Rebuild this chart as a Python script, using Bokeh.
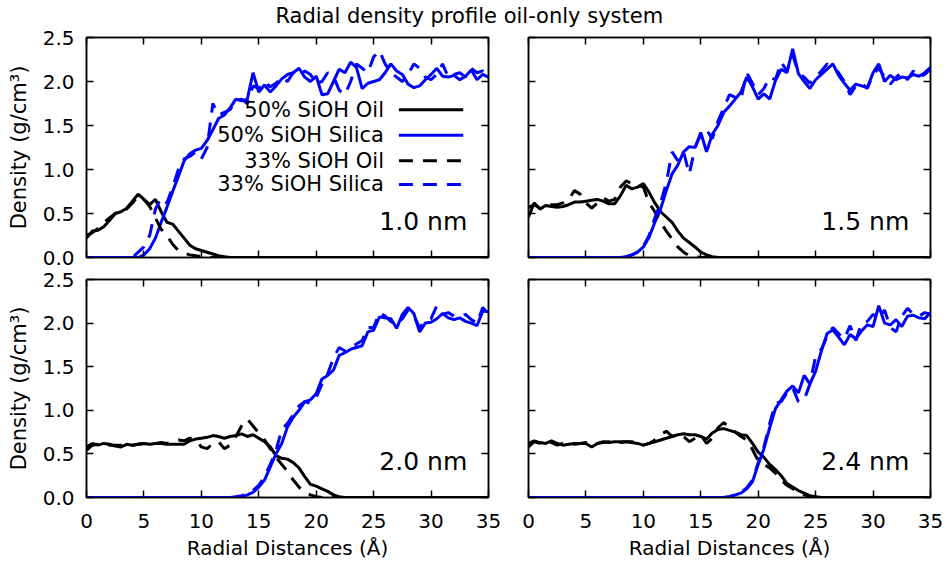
from bokeh.plotting import figure
from bokeh.models import Range1d, LinearAxis, Label, FixedTicker
from bokeh.layouts import column, row
from bokeh.embed import file_html
from bokeh.resources import INLINE
from bokeh.core.properties import value

TITLE = "Radial density profile oil-only system"
X_LABEL = "Radial Distances (Å)"
Y_LABEL = "Density (g/cm³)"
SERIES_NAMES = ["50% SiOH Oil", "50% SiOH Silica", "33% SiOH Oil", "33% SiOH Silica"]
PANEL_LABELS = ["1.0 nm", "1.5 nm", "2.0 nm", "2.4 nm"]
X_TICKS = [0, 5, 10, 15, 20, 25, 30, 35]
Y_TICKS = [0.0, 0.5, 1.0, 1.5, 2.0, 2.5]
Y_TICK_LABELS = ["0.0", "0.5", "1.0", "1.5", "2.0", "2.5"]

radius = [0.0, 0.5, 1.0, 1.5, 2.0, 2.5, 3.0, 3.5, 4.0, 4.5,
          5.0, 5.5, 6.0, 6.5, 7.0, 7.5, 8.0, 8.5, 9.0, 9.5,
          10.0, 10.5, 11.0, 11.5, 12.0, 12.5, 13.0, 13.5, 14.0, 14.5,
          15.0, 15.5, 16.0, 16.5, 17.0, 17.5, 18.0, 18.5, 19.0, 19.5,
          20.0, 20.5, 21.0, 21.5, 22.0, 22.5, 23.0, 23.5, 24.0, 24.5,
          25.0, 25.5, 26.0, 26.5, 27.0, 27.5, 28.0, 28.5, 29.0, 29.5,
          30.0, 30.5, 31.0, 31.5, 32.0, 32.5, 33.0, 33.5, 34.0, 34.5,
          35.0]

Z10 = [0, 0, 0, 0, 0, 0, 0, 0, 0, 0]

# ---- 1.0 nm ----
p1_oil50 = [0.22, 0.30, 0.31, 0.35, 0.42, 0.50, 0.52, 0.56, 0.64, 0.72,
            0.66, 0.60, 0.66, 0.52, 0.40, 0.38, 0.30, 0.22, 0.14, 0.10,
            0.08, 0.06, 0.04, 0.02, 0.01, 0, 0, 0, 0, 0] + Z10 * 4 + [0]
p1_oil33 = [0.25, 0.28, 0.33, 0.40, 0.45, 0.50, 0.52, 0.55, 0.62, 0.70,
            0.66, 0.58, 0.45, 0.32, 0.25, 0.15, 0.08, 0.05, 0.03, 0.02,
            0.01, 0, 0, 0, 0, 0, 0, 0, 0, 0] + Z10 * 4 + [0]
p1_sil50 = Z10 + [
            0.03, 0.10, 0.22, 0.40, 0.57, 0.75, 0.92, 1.10, 1.18, 1.22,
            1.24, 1.33, 1.45, 1.58, 1.62, 1.70, 1.80, 1.78, 1.80, 2.10,
            1.88, 1.96, 1.88, 1.95, 2.03, 2.08, 2.10, 2.15, 2.05, 2.00,
            2.06, 1.85, 1.86, 2.00, 2.14, 2.10, 2.22, 2.16, 1.92, 1.98,
            2.00, 2.02, 2.10, 2.20, 2.12, 2.08, 1.97, 1.93, 1.95, 2.02,
            2.08, 2.15, 2.06, 2.05, 2.07, 2.02, 2.06, 2.13, 2.02, 2.08,
            2.05]
p1_sil33 = [0, 0, 0, 0, 0, 0, 0, 0, 0, 0.06,
            0.12, 0.25, 0.55, 0.68, 0.62, 0.80, 1.00, 1.12, 1.15, 1.20,
            1.12, 1.25, 1.75, 1.62, 1.65, 1.68, 1.78, 1.80, 1.75, 1.95,
            1.92, 2.00, 1.94, 1.98, 2.05, 2.00, 2.10, 2.06, 2.12, 2.08,
            1.98, 2.00, 2.10, 2.06, 1.90, 1.85, 2.00, 2.20, 2.15, 2.10,
            2.28, 2.35, 2.20, 2.10, 2.05, 2.00, 2.08, 2.20, 2.15, 2.05,
            2.02, 2.08, 2.20, 2.05, 2.08, 2.10, 2.05, 2.15, 2.10, 2.12,
            2.08]

# ---- 1.5 nm ----
p2_oil50 = [0.46, 0.62, 0.55, 0.59, 0.58, 0.57, 0.58, 0.60, 0.63, 0.63,
            0.64, 0.65, 0.66, 0.64, 0.61, 0.61, 0.70, 0.82, 0.78, 0.80,
            0.84, 0.74, 0.62, 0.52, 0.46, 0.40, 0.30, 0.22, 0.17, 0.12,
            0.06, 0.03, 0.01, 0, 0, 0, 0, 0, 0, 0] + Z10 * 3 + [0]
p2_oil33 = [0.57, 0.60, 0.56, 0.58, 0.60, 0.60, 0.62, 0.66, 0.76, 0.72,
            0.62, 0.56, 0.62, 0.68, 0.64, 0.66, 0.80, 0.87, 0.84, 0.82,
            0.80, 0.62, 0.52, 0.40, 0.30, 0.21, 0.12, 0.06, 0.02, 0.01] + Z10 * 4 + [0]
p2_sil50 = Z10 + [
            0, 0, 0, 0, 0, 0, 0, 0.01, 0.03, 0.06,
            0.12, 0.23, 0.40, 0.55, 0.76, 0.95, 1.05, 1.20, 1.26, 1.25,
            1.42, 1.20, 1.40, 1.50, 1.65, 1.72, 1.80, 1.88, 2.05, 1.94,
            1.80, 1.86, 1.80, 2.01, 2.14, 2.10, 2.37, 2.09, 2.00, 1.92,
            2.02, 2.08, 2.14, 2.20, 2.07, 1.98, 1.90, 1.97, 1.95, 1.93,
            2.10, 2.20, 2.00, 2.07, 2.02, 2.05, 2.04, 2.08, 2.06, 2.10,
            2.16]
p2_sil33 = Z10 + [
            0, 0, 0, 0, 0, 0, 0, 0.01, 0.03, 0.06,
            0.13, 0.25, 0.45, 0.62, 0.85, 1.20, 1.10, 1.20, 0.95, 1.25,
            1.40, 1.45, 1.35, 1.55, 1.70, 1.85, 1.82, 1.80, 2.10, 1.98,
            1.85, 1.92, 2.05, 2.02, 2.22, 2.12, 2.30, 2.10, 2.05, 1.98,
            2.05, 2.12, 2.20, 2.16, 2.10, 2.00, 1.85, 1.95, 1.98, 1.92,
            2.08, 2.15, 2.05, 1.97, 2.05, 2.10, 2.02, 2.12, 2.05, 2.08,
            2.14]

# ---- 2.0 nm ----
p3_oil50 = [0.58, 0.62, 0.60, 0.62, 0.61, 0.59, 0.58, 0.61, 0.60, 0.61,
            0.62, 0.61, 0.62, 0.62, 0.61, 0.61, 0.61, 0.61, 0.65, 0.67,
            0.68, 0.69, 0.71, 0.70, 0.68, 0.70, 0.71, 0.73, 0.70, 0.72,
            0.68, 0.64, 0.58, 0.48, 0.45, 0.44, 0.40, 0.34, 0.24, 0.15,
            0.13, 0.10, 0.07, 0.03, 0.01, 0, 0, 0, 0, 0] + Z10 * 2 + [0]
p3_oil33 = [0.54, 0.60, 0.61, 0.62, 0.60, 0.60, 0.60, 0.62, 0.60, 0.61,
            0.62, 0.60, 0.62, 0.63, 0.62, 0.64, 0.66, 0.65, 0.68, 0.66,
            0.58, 0.56, 0.62, 0.64, 0.56, 0.60, 0.70, 0.82, 0.90, 0.82,
            0.74, 0.66, 0.56, 0.46, 0.38, 0.30, 0.20, 0.12, 0.06, 0.03,
            0.01, 0, 0, 0, 0, 0, 0, 0, 0, 0] + Z10 * 2 + [0]
p3_sil50 = Z10 * 2 + [
            0, 0, 0, 0, 0, 0, 0, 0.01, 0.03, 0.06,
            0.12, 0.20, 0.35, 0.50, 0.62, 0.81, 0.92, 1.00, 1.10, 1.12,
            1.19, 1.36, 1.40, 1.46, 1.63, 1.66, 1.70, 1.72, 1.74, 1.90,
            1.92, 2.07, 2.06, 2.05, 1.94, 2.10, 2.18, 2.11, 1.90, 2.00,
            2.01, 2.05, 2.11, 2.06, 2.04, 2.06, 2.02, 2.00, 1.97, 2.14,
            2.13]
p3_sil33 = Z10 * 2 + [
            0, 0, 0, 0, 0, 0, 0.01, 0.02, 0.04, 0.08,
            0.14, 0.24, 0.38, 0.54, 0.78, 0.85, 0.95, 1.05, 1.10, 1.08,
            1.15, 1.30, 1.42, 1.60, 1.72, 1.68, 1.72, 1.76, 1.80, 1.95,
            1.95, 2.12, 2.08, 2.02, 1.98, 2.05, 2.15, 2.08, 1.95, 2.02,
            2.05, 2.20, 2.10, 2.12, 2.08, 2.08, 2.10, 2.04, 2.00, 2.18,
            2.10]

# ---- 2.4 nm ----
p4_oil50 = [0.62, 0.65, 0.63, 0.62, 0.65, 0.62, 0.60, 0.61, 0.62, 0.62,
            0.62, 0.58, 0.62, 0.64, 0.63, 0.64, 0.64, 0.64, 0.63, 0.62,
            0.60, 0.62, 0.64, 0.66, 0.68, 0.70, 0.72, 0.73, 0.72, 0.72,
            0.70, 0.67, 0.74, 0.78, 0.79, 0.77, 0.75, 0.72, 0.71, 0.62,
            0.52, 0.46, 0.38, 0.32, 0.25, 0.16, 0.12, 0.08, 0.05, 0.02,
            0.01, 0, 0, 0, 0, 0, 0, 0, 0, 0] + Z10 + [0]
p4_oil33 = [0.58, 0.64, 0.62, 0.64, 0.63, 0.60, 0.62, 0.62, 0.61, 0.62,
            0.63, 0.60, 0.62, 0.63, 0.64, 0.62, 0.63, 0.64, 0.64, 0.63,
            0.60, 0.62, 0.66, 0.72, 0.76, 0.70, 0.72, 0.70, 0.64, 0.68,
            0.72, 0.62, 0.68, 0.80, 0.86, 0.80, 0.75, 0.70, 0.66, 0.55,
            0.42, 0.38, 0.34, 0.28, 0.20, 0.14, 0.10, 0.06, 0.03, 0.01] + Z10 * 2 + [0]
p4_sil50 = Z10 * 3 + [
            0, 0, 0, 0, 0, 0.01, 0.03, 0.05, 0.10, 0.18,
            0.38, 0.56, 0.80, 1.02, 1.12, 1.22, 1.28, 1.20, 1.40, 1.30,
            1.45, 1.68, 1.88, 1.92, 1.84, 1.75, 1.87, 1.82, 1.91, 1.98,
            1.96, 2.20, 2.00, 1.98, 2.04, 1.96, 2.08, 2.09, 2.06, 2.05,
            2.12]
p4_sil33 = Z10 * 3 + [
            0, 0, 0, 0, 0, 0.01, 0.03, 0.06, 0.11, 0.20,
            0.40, 0.58, 0.85, 1.08, 1.10, 1.20, 1.26, 1.10, 1.12, 1.30,
            1.62, 1.70, 1.85, 1.95, 1.88, 1.82, 1.97, 1.80, 2.00, 2.02,
            2.10, 2.05, 2.15, 1.95, 1.90, 2.08, 2.17, 2.10, 2.08, 2.12,
            2.10]

PANELS = [
    (p1_oil50, p1_sil50, p1_oil33, p1_sil33),
    (p2_oil50, p2_sil50, p2_oil33, p2_sil33),
    (p3_oil50, p3_sil50, p3_oil33, p3_sil33),
    (p4_oil50, p4_sil50, p4_oil33, p4_sil33),
]

FONT = "DejaVu Sans"
COLORS = ["#000000", "#0000ff", "#000000", "#0000ff"]
DASHES = ["solid", "solid", "14 10", "14 10"]
LW = 3


def add_axis(p, side, show_labels, ticks, axis_label=None, overrides=None):
    ax = LinearAxis(ticker=FixedTicker(ticks=ticks),
                    major_tick_in=7, major_tick_out=0,
                    minor_tick_in=0, minor_tick_out=0,
                    axis_line_color="black", axis_line_width=1.5,
                    major_tick_line_color="black", major_tick_line_width=1.5,
                    major_label_text_font=FONT,
                    major_label_text_color="black",
                    axis_label_text_font=FONT,
                    axis_label_text_font_style="normal",
                    axis_label_text_color="black")
    if show_labels:
        ax.major_label_text_font_size = "20px"
        ax.major_label_standoff = 12 if side == "left" else 16
        if overrides:
            ax.major_label_overrides = overrides
        if axis_label:
            ax.axis_label = axis_label
            if side == "left":
                ax.axis_label_text_font_size = "21px"
                ax.axis_label_standoff = 9
            else:
                ax.axis_label_text_font_size = "20px"
                ax.axis_label_standoff = 5
    else:
        ax.major_label_text_font_size = "0px"
        ax.major_label_text_color = None
        ax.major_label_standoff = 0
    p.add_layout(ax, side)
    return ax


def make_panel(idx, show_left, show_bottom, fh, mb):
    p = figure(frame_width=402, frame_height=fh,
               x_range=Range1d(0, 35), y_range=Range1d(0, 2.5),
               x_axis_location=None, y_axis_location=None,
               output_backend="svg", toolbar_location=None,
               min_border_left=mb[0], min_border_right=mb[1],
               min_border_top=mb[2], min_border_bottom=mb[3],
               background_fill_color="white", border_fill_color="white")
    p.outline_line_color = "black"
    p.outline_line_width = 1.5
    p.grid.visible = False
    ov = {t: s for t, s in zip(Y_TICKS, Y_TICK_LABELS)}
    add_axis(p, "below", show_bottom, X_TICKS, X_LABEL if show_bottom else None)
    add_axis(p, "left", show_left, Y_TICKS, Y_LABEL if show_left else None, ov)
    add_axis(p, "above", False, X_TICKS)
    add_axis(p, "right", False, Y_TICKS)

    series = PANELS[idx]
    for ys, c, d in zip(series, COLORS, DASHES):
        p.line(radius, ys, line_color=c, line_width=LW, line_dash=d)

    p.add_layout(Label(x=33.15, y=0.41, text=PANEL_LABELS[idx],
                       text_align="right", text_baseline="middle",
                       text_font=FONT, text_font_size="25px", text_color="black"))
    return p


top_mb_l = (86, 20, 10, 11)
top_mb_r = (20, 17, 10, 11)
bot_mb_l = (86, 20, 11, 65)
bot_mb_r = (20, 17, 11, 65)

p1 = make_panel(0, True, False, 220, top_mb_l)
p2 = make_panel(1, False, False, 220, top_mb_r)
p3 = make_panel(2, True, True, 218, bot_mb_l)
p4 = make_panel(3, False, True, 218, bot_mb_r)

# legend for first panel (gnuplot style: label right-aligned, sample on the right)
leg_y = [1.68, 1.39, 1.10, 0.83]
for name, c, d, yy in zip(SERIES_NAMES, COLORS, DASHES, leg_y):
    p1.text(x=[25.9], y=[yy], text=[name], text_align="right", text_baseline="middle",
            text_font=value(FONT), text_font_size="21px", text_color="black")
    p1.line([27.2, 32.8], [yy, yy], line_color=c, line_width=LW, line_dash=d)

# title
t = figure(width=947, height=27, x_range=Range1d(0, 1), y_range=Range1d(0, 1),
           x_axis_type=None, y_axis_type=None, output_backend="svg",
           toolbar_location=None, min_border=0,
           background_fill_color="white", border_fill_color="white")
t.outline_line_color = None
t.grid.visible = False
t.text(x=[0.495], y=[0.42], text=[TITLE], text_align="center", text_baseline="middle",
       text_font=value(FONT), text_font_size="21px", text_color="black")

layout = column(t, row(p1, p2), row(p3, p4))

with open("out.html", "w") as f:
    f.write(file_html(layout, INLINE))
